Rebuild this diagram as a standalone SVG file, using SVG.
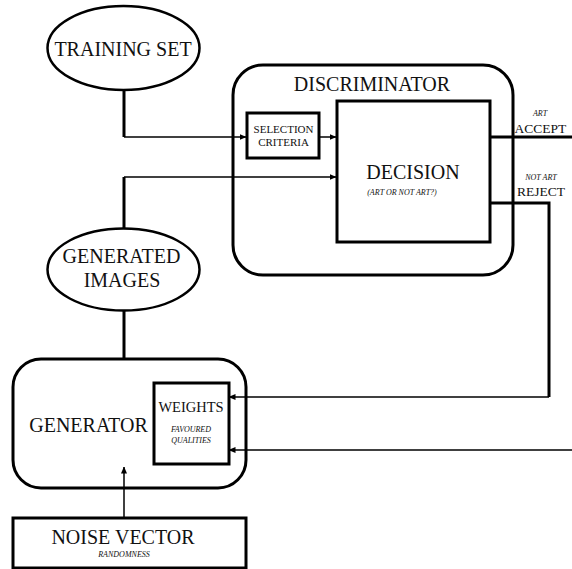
<svg xmlns="http://www.w3.org/2000/svg" width="572" height="569" viewBox="0 0 572 569">
<defs>
<marker id="ah" markerWidth="7" markerHeight="6" refX="6.5" refY="3" orient="auto" markerUnits="userSpaceOnUse">
<path d="M0,0 L7,3 L0,6 Z" fill="#000"/>
</marker>
<style>
text{font-family:'Liberation Serif','Times New Roman',serif;fill:#111;text-anchor:middle}
.big{font-size:20px}
.mid{font-size:14px}
.sm{font-size:11px}
.it{font-style:italic;font-size:8px}
.shape{fill:#fff;stroke:#000;stroke-width:3}
.thick{fill:none;stroke:#000;stroke-width:3}
.thin{fill:none;stroke:#000;stroke-width:1.5}
</style>
</defs>
<rect width="572" height="569" fill="#fff"/>
<g id="training-set">
<ellipse class="shape" cx="123.5" cy="48" rx="76" ry="42" style="stroke-width:2.5"/>
<text class="big" x="123" y="56">TRAINING SET</text>
</g>
<g id="generated-images">
<ellipse class="shape" cx="123.5" cy="269.5" rx="76" ry="41" style="stroke-width:2.5"/>
<text class="big" x="121.5" y="263">GENERATED</text>
<text class="big" x="122" y="287">IMAGES</text>
</g>
<g id="discriminator">
<rect class="shape" x="233" y="65" width="280" height="210" rx="30"/>
<text class="big" x="372" y="91">DISCRIMINATOR</text>
</g>
<g id="selection-criteria">
<rect class="shape" x="247" y="113" width="72" height="45"/>
<text class="sm" x="283.5" y="133">SELECTION</text>
<text class="sm" x="283.5" y="146">CRITERIA</text>
</g>
<g id="decision">
<rect class="shape" x="337" y="101" width="153" height="141"/>
<text class="big" x="413" y="179">DECISION</text>
<text class="it" x="402" y="195">(ART OR NOT ART?)</text>
</g>
<g id="accept-label">
<text class="it" x="540" y="116">ART</text>
<text class="mid" x="540.5" y="133" style="font-size:13.5px">ACCEPT</text>
</g>
<g id="reject-label">
<text class="it" x="541" y="180">NOT ART</text>
<text class="mid" x="541" y="196" style="font-size:13.5px">REJECT</text>
</g>
<g id="generator">
<rect class="shape" x="13" y="359" width="233" height="129" rx="28"/>
<text class="big" x="88.5" y="432">GENERATOR</text>
</g>
<g id="weights">
<rect class="shape" x="154" y="383" width="75" height="81"/>
<text class="mid" x="191" y="412" style="font-size:14.5px">WEIGHTS</text>
<text class="it" x="191" y="432">FAVOURED</text>
<text class="it" x="191" y="443">QUALITIES</text>
</g>
<g id="noise-vector">
<rect class="shape" x="13" y="518" width="233" height="50"/>
<text class="big" x="123" y="544">NOISE VECTOR</text>
<text class="it" x="124" y="557">RANDOMNESS</text>
</g>
<g id="connectors">
<path class="thick" d="M124,90 V137"/>
<path class="thin" d="M124,137 H246" marker-end="url(#ah)"/>
<path class="thin" d="M319,137 H336" marker-end="url(#ah)"/>
<path class="thick" d="M124,229 V177"/>
<path class="thin" d="M124,177 H336" marker-end="url(#ah)"/>
<path class="thick" d="M490,137 H572"/>
<path class="thick" d="M490,203 H549 V397"/>
<path class="thin" d="M549,397 H229" marker-end="url(#ah)"/>
<path class="thin" d="M572,450 H229" marker-end="url(#ah)"/>
<path class="thick" d="M124,310 V359"/>
<path class="thin" d="M124,518 V467" marker-end="url(#ah)"/>
</g>
</svg>
